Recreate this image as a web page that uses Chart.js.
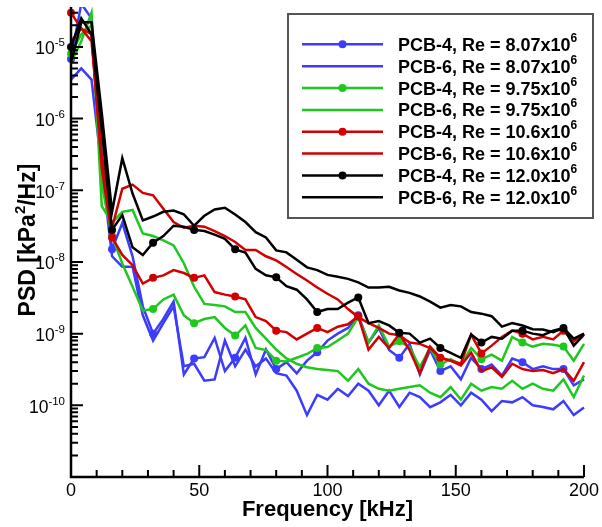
<!DOCTYPE html>
<html>
<head>
<meta charset="utf-8">
<title>PSD</title>
<script src="https://cdn.jsdelivr.net/npm/chart.js@4/dist/chart.umd.min.js"></script>
<style>
  html, body { margin: 0; padding: 0; background: #fff; }
  #wrap { position: relative; width: 602px; height: 527px; }
</style>
</head>
<body>
<div id="wrap"><canvas id="psd-chart"></canvas></div>
<script>
// frequency bins [kHz]
var freq = [0, 4, 8, 12, 16, 20, 24, 28, 32, 36, 40, 44, 48, 52, 56, 60, 64, 68, 72, 76,
            80, 84, 88, 92, 96, 100, 104, 108, 112, 116, 120, 124, 128, 132, 136, 140, 144, 148, 152, 156,
            160, 164, 168, 172, 176, 180, 184, 188, 192, 196, 200];

// PSD [kPa^2/Hz], Re = 8.07e6
var pcb4Re807 = [6.8e-6, 4e-5, 2.5e-5, 3e-7, 1.5e-8, 3.5e-8, 1.2e-8, 2.4e-9, 1.0e-9, 1.6e-9,
                 2.8e-9, 2.7e-10, 4.5e-10, 4.7e-10, 8.7e-10, 3e-10, 4.6e-10, 8.7e-10, 2.7e-10, 6e-10,
                 3.2e-10, 4e-10, 2.8e-10, 4.2e-10, 5.5e-10, 8e-10, 1.0e-9, 1.2e-9, 1.8e-9, 7.5e-10,
                 1.2e-9, 5.9e-10, 4.6e-10, 7.2e-10, 2.7e-10, 5.9e-10, 3e-10, 3.5e-10, 2.3e-10, 4.6e-10,
                 3.2e-10, 3.7e-10, 2.6e-10, 4.5e-10, 4e-10, 3.2e-10, 3.5e-10, 3.2e-10, 3.2e-10, 1.9e-10, 2.3e-10];
var pcb6Re807 = [3.5e-6, 5e-6, 3.5e-6, 2e-7, 1.2e-8, 8.6e-9, 8.6e-9, 1.8e-9, 8e-10, 1.4e-9,
                 2.4e-9, 3.5e-10, 3.8e-10, 2.2e-10, 2.3e-10, 8e-10, 3.5e-10, 6e-10, 3.5e-10, 4.5e-10,
                 2.8e-10, 2.6e-10, 1.6e-10, 7.3e-11, 1.4e-10, 1.2e-10, 1.7e-10, 1.35e-10, 2.0e-10, 1.6e-10,
                 1.0e-10, 1.6e-10, 9.5e-11, 1.5e-10, 1.3e-10, 9.4e-11, 1.1e-10, 1.4e-10, 1.0e-10, 1.5e-10,
                 1.2e-10, 8.3e-11, 1.15e-10, 1.1e-10, 1.3e-10, 1.0e-10, 9.5e-11, 8.8e-11, 1.15e-10, 7.3e-11, 9.3e-11];

// Re = 9.75e6
var pcb4Re975 = [8e-6, 1.5e-5, 2e-5, 1.2e-7, 2.3e-8, 9.5e-9, 4.5e-9, 2.1e-9, 2.2e-9, 3e-9,
                 3.5e-9, 1.8e-9, 1.4e-9, 1.6e-9, 1.7e-9, 1.2e-9, 9.4e-10, 1.3e-9, 6.3e-10, 5.9e-10,
                 4.2e-10, 4.1e-10, 4.6e-10, 5.2e-10, 6.3e-10, 6.5e-10, 8e-10, 1.0e-9, 1.7e-9, 7.5e-10,
                 1.3e-9, 6.6e-10, 7.8e-10, 6.5e-10, 3.4e-10, 6.3e-10, 3.7e-10, 4.4e-10, 3.7e-10, 6.3e-10,
                 4.4e-10, 5.1e-10, 4.2e-10, 9e-10, 7.5e-10, 6.6e-10, 7.2e-10, 7e-10, 6.6e-10, 4.2e-10, 7.2e-10];
var pcb6Re975 = [6e-6, 1.2e-5, 3e-5, 6e-8, 3.5e-8, 5e-8, 5.3e-8, 2.5e-8, 2.3e-8, 2.0e-8,
                 1.7e-8, 9.6e-9, 4.5e-9, 2.6e-9, 2.5e-9, 2.4e-9, 2.0e-9, 2.0e-9, 1.2e-9, 8.5e-10,
                 6e-10, 4.5e-10, 3.8e-10, 3.4e-10, 3.2e-10, 3.1e-10, 3e-10, 2.2e-10, 3.2e-10, 2.0e-10,
                 1.7e-10, 1.6e-10, 1.7e-10, 1.8e-10, 1.9e-10, 1.5e-10, 1.3e-10, 1.8e-10, 1.2e-10, 2.0e-10,
                 1.6e-10, 1.8e-10, 1.7e-10, 2.2e-10, 1.7e-10, 2.0e-10, 1.7e-10, 1.6e-10, 2.3e-10, 1.3e-10, 2.6e-10];

// Re = 10.6e6
var pcb4Re106 = [3e-5, 1.8e-5, 1.5e-5, 2e-7, 2.2e-8, 1.25e-8, 9e-9, 5e-9, 6e-9, 6.5e-9,
                 7.7e-9, 7e-9, 6e-9, 6.5e-9, 3.8e-9, 3.5e-9, 3.3e-9, 3.0e-9, 1.7e-9, 1.5e-9,
                 1.1e-9, 1.05e-9, 8.3e-10, 1.0e-9, 1.2e-9, 1.05e-9, 1.25e-9, 1.35e-9, 1.75e-9, 6e-10,
                 9e-10, 6.3e-10, 1.0e-9, 5.9e-10, 2.8e-10, 6.6e-10, 4.6e-10, 4.2e-10, 3.8e-10, 9.7e-10,
                 5.3e-10, 6.8e-10, 9e-10, 1.1e-9, 1.0e-9, 8.3e-10, 9e-10, 8.3e-10, 1.1e-9, 7.8e-10, 1.0e-9];
var pcb6Re106 = [1.2e-5, 1.8e-5, 1.2e-5, 3e-7, 3e-8, 1.05e-7, 1.2e-7, 9.2e-8, 8.5e-8, 5.5e-8,
                 3.6e-8, 3.0e-8, 3.2e-8, 3.1e-8, 2.7e-8, 2.3e-8, 1.9e-8, 1.47e-8, 1.47e-8, 1.2e-8,
                 1.05e-8, 8.5e-9, 6.8e-9, 5.5e-9, 4.4e-9, 3.6e-9, 3e-9, 2.2e-9, 1.7e-9, 1.4e-9,
                 1.2e-9, 1.0e-9, 9.5e-10, 7.5e-10, 7.2e-10, 6.3e-10, 4.6e-10, 4.2e-10, 3.6e-10, 5.4e-10,
                 3.0e-10, 3.4e-10, 2.5e-10, 3.8e-10, 3.2e-10, 3e-10, 3.1e-10, 2.8e-10, 3.2e-10, 2.2e-10, 4e-10];

// Re = 12.0e6
var pcb4Re120 = [1e-5, 2.5e-5, 1.5e-5, 7e-7, 2.8e-8, 4.5e-8, 1.6e-8, 1.25e-8, 1.85e-8, 2.3e-8,
                 3.2e-8, 3.1e-8, 2.8e-8, 2.7e-8, 2.4e-8, 2.1e-8, 1.5e-8, 1.35e-8, 8e-9, 6.5e-9,
                 6.1e-9, 4.6e-9, 4.1e-9, 3.0e-9, 2.0e-9, 2.2e-9, 2.2e-9, 2.7e-9, 3.2e-9, 1.4e-9,
                 1.5e-9, 1.3e-9, 1.03e-9, 1.0e-9, 7.5e-10, 8.5e-10, 6.3e-10, 5.4e-10, 4.6e-10, 9.7e-10,
                 7.5e-10, 9e-10, 8.5e-10, 1.1e-9, 1.1e-9, 1.0e-9, 9.5e-10, 1.1e-9, 1.2e-9, 6.8e-10, 9.7e-10];
var pcb6Re120 = [6e-6, 2.2e-5, 2.2e-5, 1.2e-6, 5e-8, 2.8e-7, 9e-8, 3.8e-8, 4.3e-8, 5e-8,
                 5.2e-8, 4.6e-8, 3.2e-8, 4.4e-8, 5.4e-8, 5.7e-8, 4.6e-8, 3.6e-8, 2.6e-8, 2.2e-8,
                 1.45e-8, 1.36e-8, 1.07e-8, 8.4e-9, 7.7e-9, 6.6e-9, 6.2e-9, 5.8e-9, 5.2e-9, 4.4e-9,
                 4.4e-9, 4.5e-9, 4.0e-9, 3.7e-9, 3.3e-9, 2.8e-9, 2.3e-9, 2.5e-9, 2.4e-9, 2.0e-9,
                 1.9e-9, 1.75e-9, 1.25e-9, 1.4e-9, 1.3e-9, 1.15e-9, 1.14e-9, 1.05e-9, 1.2e-9, 8.5e-10, 1.0e-9];

var seriesValues = [pcb4Re807, pcb6Re807, pcb4Re975, pcb6Re975, pcb4Re106, pcb6Re106, pcb4Re120, pcb6Re120];
var probes = ['PCB-4', 'PCB-6', 'PCB-4', 'PCB-6', 'PCB-4', 'PCB-6', 'PCB-4', 'PCB-6'];
var reynolds = ['8.07', '8.07', '9.75', '9.75', '10.6', '10.6', '12.0', '12.0'];
var colors = ['#3c3cff', '#3c3cff', '#1ec81e', '#1ec81e', '#d20000', '#d20000', '#000000', '#000000'];

var xTicks = [0, 50, 100, 150, 200];
var yTickExps = [-5, -6, -7, -8, -9, -10];

var FONT = '"Liberation Sans", Arial, Helvetica, sans-serif';

function markerRadius(ctx) {
    return freq[ctx.dataIndex] % 16 === 0 ? 4 : 0;
}

var datasets = seriesValues.map(function (vals, i) {
    var hasMarkers = probes[i] === 'PCB-4';
    return {
        label: probes[i] + ', Re = ' + reynolds[i] + 'x10^6',
        data: freq.map(function (f, k) { return { x: f, y: vals[k] }; }),
        borderColor: colors[i],
        backgroundColor: colors[i],
        borderWidth: 2.5,
        tension: 0,
        pointRadius: hasMarkers ? markerRadius : 0,
        pointHoverRadius: 0,
        pointBorderWidth: 0,
        pointBackgroundColor: colors[i],
        order: seriesValues.length - i,
        clip: { left: 6, top: 0, right: 6, bottom: 0 }
    };
});

function supWidth(ctx, base, sup, baseFont, supFont) {
    ctx.font = baseFont;
    var w1 = ctx.measureText(base).width;
    ctx.font = supFont;
    return w1 + ctx.measureText(sup).width;
}

// text with a raised exponent
function drawSup(ctx, x, y, base, sup, baseFont, supFont, rise) {
    ctx.textAlign = 'left';
    ctx.font = baseFont;
    ctx.fillText(base, x, y);
    var w1 = ctx.measureText(base).width;
    ctx.font = supFont;
    ctx.fillText(sup, x + w1, y - rise);
}

var psdFrame = {
    id: 'psdFrame',
    afterDraw: function (chart) {
        var ctx = chart.ctx, xs = chart.scales.x, ys = chart.scales.y, a = chart.chartArea;
        ctx.save();
        ctx.strokeStyle = '#000';
        ctx.fillStyle = '#000';

        // ticks (pointing inward)
        ctx.lineWidth = 2;
        ctx.beginPath();
        for (var f = 0; f <= 200; f += 10) {
            var px = xs.getPixelForValue(f);
            var len = f % 50 === 0 ? 12 : 7;
            ctx.moveTo(px, a.bottom);
            ctx.lineTo(px, a.bottom - len);
        }
        for (var d = -11; d <= -5; d++) {
            for (var m = 1; m <= 9; m++) {
                var v = m * Math.pow(10, d);
                if (v > ys.max || v < ys.min) continue;
                var py = ys.getPixelForValue(v);
                ctx.moveTo(a.left, py);
                ctx.lineTo(a.left + (m === 1 ? 12 : 7), py);
            }
        }
        ctx.stroke();

        // axis lines
        ctx.lineWidth = 2.5;
        ctx.lineJoin = 'miter';
        ctx.beginPath();
        ctx.moveTo(a.left, a.top);
        ctx.lineTo(a.left, a.bottom);
        ctx.lineTo(a.right, a.bottom);
        ctx.stroke();

        // x tick labels
        ctx.font = '18px ' + FONT;
        ctx.textAlign = 'center';
        ctx.textBaseline = 'alphabetic';
        xTicks.forEach(function (t) {
            ctx.fillText(String(t), xs.getPixelForValue(t), a.bottom + 19);
        });

        // y tick labels 10^n
        var baseF = '17.5px ' + FONT, supF = '11.5px ' + FONT;
        yTickExps.forEach(function (e) {
            var py = ys.getPixelForValue(Math.pow(10, e));
            var w = supWidth(ctx, '10', String(e), baseF, supF);
            drawSup(ctx, a.left - 6 - w, py + 7.5, '10', String(e), baseF, supF, 8);
        });

        // axis titles
        ctx.font = 'bold 22px ' + FONT;
        ctx.textAlign = 'center';
        ctx.fillText('Frequency [kHz]', (a.left + a.right) / 2, 516);

        ctx.save();
        ctx.translate(35, 240);
        ctx.rotate(-Math.PI / 2);
        var tF = 'bold 23px ' + FONT, tS = 'bold 15px ' + FONT;
        ctx.font = tF;
        var p1 = 'PSD [kPa', p3 = '/Hz]';
        var w1 = ctx.measureText(p1).width, w3 = ctx.measureText(p3).width;
        ctx.font = tS;
        var w2 = ctx.measureText('2').width;
        var x0 = -(w1 + w2 + w3) / 2;
        ctx.textAlign = 'left';
        ctx.font = tF;
        ctx.fillText(p1, x0, 0);
        ctx.font = tS;
        ctx.fillText('2', x0 + w1, -10);
        ctx.font = tF;
        ctx.fillText(p3, x0 + w1 + w2, 0);
        ctx.restore();

        // legend box
        var bx = 288, by = 14, bw = 305, bh = 204;
        ctx.fillStyle = '#fff';
        ctx.fillRect(bx, by, bw, bh);
        ctx.strokeStyle = '#555';
        ctx.lineWidth = 2;
        ctx.strokeRect(bx, by, bw, bh);

        var rowH = 21.86;
        var lF = 'bold 18px ' + FONT, lS = 'bold 12px ' + FONT;
        chart.data.datasets.forEach(function (ds, i) {
            var ry = by + 30.3 + i * rowH;
            ctx.strokeStyle = colors[i];
            ctx.lineWidth = 2.5;
            ctx.beginPath();
            ctx.moveTo(bx + 14, ry);
            ctx.lineTo(bx + 95, ry);
            ctx.stroke();
            if (probes[i] === 'PCB-4') {
                ctx.fillStyle = colors[i];
                ctx.beginPath();
                ctx.arc(bx + 54.5, ry, 4, 0, Math.PI * 2);
                ctx.fill();
            }
            ctx.fillStyle = '#000';
            drawSup(ctx, bx + 110, ry + 6.5, probes[i] + ', Re = ' + reynolds[i] + 'x10', '6', lF, lS, 9);
        });

        ctx.restore();
    }
};

Chart.defaults.font.family = FONT;

new Chart(document.getElementById('psd-chart'), {
    type: 'line',
    data: { datasets: datasets },
    options: {
        responsive: true,
        maintainAspectRatio: false,
        animation: false,
        devicePixelRatio: 1,
        layout: { padding: { left: 71, right: 18, top: 7, bottom: 50 } },
        plugins: { legend: { display: false }, tooltip: { enabled: false } },
        scales: {
            x: { type: 'linear', min: 0, max: 200, display: false },
            y: { type: 'logarithmic', min: 1e-11, max: 3.6e-5, display: false }
        }
    },
    plugins: [psdFrame]
});
</script>
</body>
</html>
